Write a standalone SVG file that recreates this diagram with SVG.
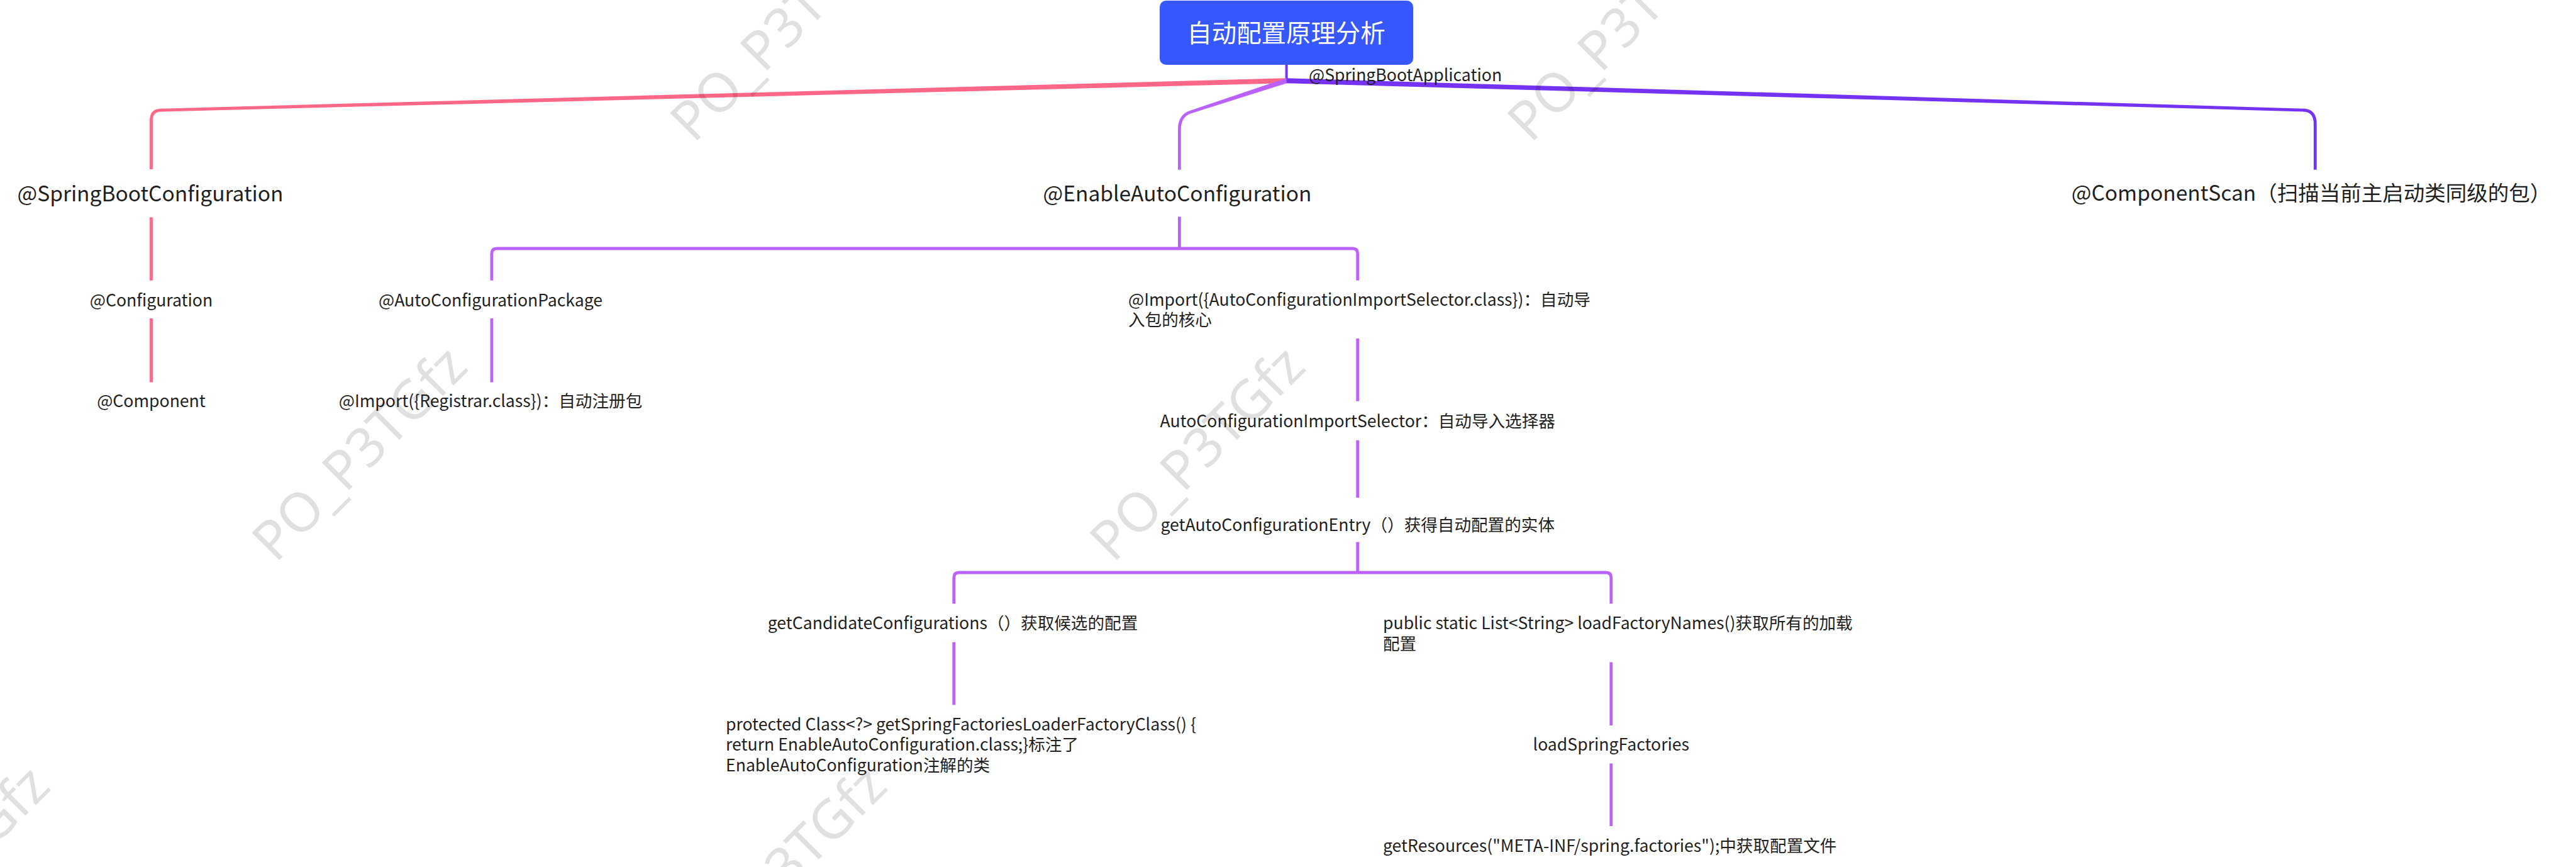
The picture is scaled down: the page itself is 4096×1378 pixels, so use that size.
<svg xmlns="http://www.w3.org/2000/svg" width="4096" height="1378" viewBox="0 0 4096 1378">
<style>
.t{font-family:"Noto Sans CJK SC","Noto Sans",sans-serif;fill:#1f1f1f}
.s{font-size:26.6px}
.l{font-size:33.5px}
.m{text-anchor:middle}
.c{fill:none;stroke-width:4.8;stroke-linecap:butt;stroke-linejoin:round}
.pk{stroke:#ff6788}
.lp{stroke:#bb62fd}
.dp{stroke:#7532f3}
.fpk{fill:#ff6788}
.flp{fill:#bb62fd}
.fdp{fill:#7532f3}
.wm{font-family:"Noto Sans",sans-serif;font-size:86px;fill:#000;fill-opacity:0.12}
</style>
<rect width="4096" height="1378" fill="#ffffff"/>
<g id="connectors">
<path class="c dp" style="stroke-width:4" d="M2045.6,103 V128.2"/>
<polygon class="fpk" points="2045.7,132.2 2045.5,124.2 255.5,172.7 255.7,177.5"/>
<path class="c pk" d="M257,175.1 L255.6,175.1 Q240.5,175.6 240.5,191 L240.5,269"/>
<path class="c pk" d="M240.5,345.3 V445.8"/>
<path class="c pk" d="M240.5,506 V607.6"/>
<polygon class="flp" points="2046.8,132.0 2044.4,124.4 1893.2,175.4 1894.6,180.0"/>
<path class="c lp" d="M1895.5,177.2 L1893.9,177.7 Q1875.4,183.5 1875.4,205.3 L1875.4,269.8"/>
<path class="c lp" d="M1875.4,344.4 V395"/>
<path class="c lp" d="M781.9,445.8 V403 Q781.9,395 789.9,395 H2150.7 Q2158.7,395 2158.7,403 V445.8"/>
<path class="c lp" d="M781.9,506 V607.6"/>
<path class="c lp" d="M2158.7,538 V637.7"/>
<path class="c lp" d="M2158.7,699.7 V791"/>
<path class="c lp" d="M2158.7,861.5 V910"/>
<path class="c lp" d="M1516.8,959.5 V918 Q1516.8,910 1524.8,910 H2553.8 Q2561.8,910 2561.8,918 V959.5"/>
<path class="c lp" d="M1516.8,1020.7 V1120.4"/>
<path class="c lp" d="M2561.8,1052.5 V1153"/>
<path class="c lp" d="M2561.8,1213.4 V1313"/>
<polygon class="fdp" points="2045.5,132.2 2045.7,124.2 3664.7,172.7 3664.5,177.5"/>
<path class="c dp" d="M3663,175.05 L3664.6,175.1 Q3681.3,176.8 3681.3,197 L3681.3,269.8"/>
</g>
<g id="root">
<rect x="1844" y="1" width="403" height="102" rx="10" fill="#3757ff"/>
<text class="t m" x="2045" y="67" style="font-size:39.4px;fill:#ffffff">自动配置原理分析</text>
</g>
<g id="label-springbootapplication"><text class="t s" x="2081" y="128.5">@SpringBootApplication</text></g>
<g id="n-springbootconfiguration"><text class="t l m" x="239" y="320">@SpringBootConfiguration</text></g>
<g id="n-configuration"><text class="t s m" x="240.5" y="487">@Configuration</text></g>
<g id="n-component"><text class="t s m" x="240.5" y="647">@Component</text></g>
<g id="n-enableautoconfiguration"><text class="t l m" x="1872" y="320">@EnableAutoConfiguration</text></g>
<g id="n-autoconfigurationpackage"><text class="t s m" x="780" y="487">@AutoConfigurationPackage</text></g>
<g id="n-import-registrar"><text class="t s m" x="780" y="647">@Import({Registrar.class})：自动注册包</text></g>
<g id="n-import-selector"><text class="t s" x="1794" y="486">@Import({AutoConfigurationImportSelector.class})：自动导</text><text class="t s" x="1794" y="518">入包的核心</text></g>
<g id="n-selector"><text class="t s m" x="2158.7" y="679">AutoConfigurationImportSelector：自动导入选择器</text></g>
<g id="n-entry"><text class="t s m" x="2158.7" y="844">getAutoConfigurationEntry（）获得自动配置的实体</text></g>
<g id="n-candidate"><text class="t s m" x="1515" y="1000">getCandidateConfigurations（）获取候选的配置</text></g>
<g id="n-protected"><text class="t s" x="1154" y="1160.6">protected Class&lt;?&gt; getSpringFactoriesLoaderFactoryClass() {</text><text class="t s" x="1154" y="1193.3">return EnableAutoConfiguration.class;}标注了</text><text class="t s" x="1154" y="1225.7">EnableAutoConfiguration注解的类</text></g>
<g id="n-loadfactorynames"><text class="t s" x="2199" y="1000">public static List&lt;String&gt; loadFactoryNames()获取所有的加载</text><text class="t s" x="2199" y="1032.6">配置</text></g>
<g id="n-loadspringfactories"><text class="t s m" x="2561.8" y="1193">loadSpringFactories</text></g>
<g id="n-getresources"><text class="t s" x="2199" y="1353.7">getResources("META-INF/spring.factories");中获取配置文件</text></g>
<g id="n-componentscan"><text class="t l m" x="3675" y="319">@ComponentScan（扫描当前主启动类同级的包）</text></g>
<g id="watermarks">
<text class="wm" transform="translate(1103,229) rotate(-45)">PO_P3TGfz</text>
<text class="wm" transform="translate(2434,229) rotate(-45)">PO_P3TGfz</text>
<text class="wm" transform="translate(438,896) rotate(-45)">PO_P3TGfz</text>
<text class="wm" transform="translate(1770,896) rotate(-45)">PO_P3TGfz</text>
<text class="wm" transform="translate(-226,1563) rotate(-45)">PO_P3TGfz</text>
<text class="wm" transform="translate(1105,1563) rotate(-45)">PO_P3TGfz</text>
</g>
</svg>
